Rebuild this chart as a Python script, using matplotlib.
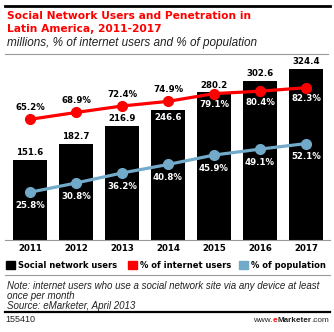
import matplotlib
matplotlib.use("Agg")
import matplotlib.pyplot as plt
from matplotlib.patches import Rectangle
from matplotlib.lines import Line2D

W, H = 334, 332

years = ["2011", "2012", "2013", "2014", "2015", "2016", "2017"]
users = [151.6, 182.7, 216.9, 246.6, 280.2, 302.6, 324.4]
pct_internet = [65.2, 68.9, 72.4, 74.9, 79.1, 80.4, 82.3]
pct_population = [25.8, 30.8, 36.2, 40.8, 45.9, 49.1, 52.1]

RED = "#ff0000"
BLUE = "#72aac9"
BOLD = "DejaVu Sans"
PLAIN = "Liberation Sans"


def fx(px):
    return px / W


def fy(py):
    return 1 - py / H


fig = plt.figure(figsize=(W / 100, H / 100), dpi=100)

# plot area: baseline at y=240px, top at 54px, x from 5 to 330px
ax = fig.add_axes([fx(5), fy(240), (330 - 5) / W, (240 - 54) / H])
ax2 = ax.twinx()

x = list(range(len(years)))
ax.bar(x, users, width=0.74, color="black", zorder=2)
ax.set_xlim(-0.543, 6.522)
ax.set_ylim(0, 353)
ax2.set_ylim(0, 100.5)

for i, v in enumerate(users):
    if i == 3:
        # the red line crosses above this bar, so its label sits inside
        ax.annotate(f"{v:.1f}", (i, v), xytext=(0, -5.3), textcoords="offset points",
                    ha="center", va="center", fontsize=6.2, fontweight="bold",
                    family=BOLD, color="white")
    else:
        ax.annotate(f"{v:.1f}", (i, v), xytext=(0, 2), textcoords="offset points",
                    ha="center", va="bottom", fontsize=6.2, fontweight="bold",
                    family=BOLD, color="black")

ax2.plot(x, pct_internet, color=RED, lw=2.3, marker="o", ms=7, zorder=3)
ax2.plot(x, pct_population, color=BLUE, lw=2.3, marker="o", ms=7, zorder=3)

for i, v in enumerate(pct_internet):
    if i < 4:
        dy, col = 8.5, "black"
    else:
        dy, col = -8, "white"
    ax2.annotate(f"{v:.1f}%", (i, v), xytext=(0, dy), textcoords="offset points",
                 ha="center", va="center", fontsize=6.2, fontweight="bold",
                 family=BOLD, color=col)

for i, v in enumerate(pct_population):
    ax2.annotate(f"{v:.1f}%", (i, v), xytext=(0, -9.5), textcoords="offset points",
                 ha="center", va="center", fontsize=6.2, fontweight="bold",
                 family=BOLD, color="white")

for a in (ax, ax2):
    for s in a.spines.values():
        s.set_visible(False)
    a.set_yticks([])
ax.spines["bottom"].set_visible(True)
ax.spines["bottom"].set_color("#999999")
ax.spines["bottom"].set_linewidth(0.8)
ax.set_xticks(x)
ax.set_xticklabels(years, fontsize=6.2, fontweight="bold", family=BOLD)
ax.tick_params(axis="x", length=0, pad=3)

# rules
fig.add_artist(Line2D([fx(5), fx(330)], [fy(6), fy(6)], color="black", lw=2))
fig.add_artist(Line2D([fx(5), fx(328)], [fy(54), fy(54)], color="#999999", lw=0.8))
fig.add_artist(Line2D([fx(5), fx(330)], [fy(275), fy(275)], color="#999999", lw=0.8))
fig.add_artist(Line2D([fx(5), fx(330)], [fy(312), fy(312)], color="black", lw=1.6))

# titles
fig.text(fx(7), fy(16), "Social Network Users and Penetration in", color=RED,
         fontsize=7.7, fontweight="bold", family=BOLD, va="center")
fig.text(fx(7), fy(29), "Latin America, 2011-2017", color=RED,
         fontsize=7.7, fontweight="bold", family=BOLD, va="center")
fig.text(fx(7), fy(43), "millions, % of internet users and % of population",
         color="#222222", fontsize=8.5, style="italic", family=PLAIN, va="center")

# legend
legend = [("black", "Social network users", 6), (RED, "% of internet users", 128),
          (BLUE, "% of population", 239)]
for col, label, px in legend:
    fig.add_artist(Rectangle((fx(px), fy(269)), 9 / W, 8 / H, color=col,
                             transform=fig.transFigure))
    fig.text(fx(px + 12), fy(265.5), label, fontsize=6, fontweight="bold",
             family=BOLD, va="center")

# notes
notes = ["Note: internet users who use a social network site via any device at least",
         "once per month", "Source: eMarketer, April 2013"]
for k, line in enumerate(notes):
    fig.text(fx(7), fy(286 + 10 * k), line, fontsize=7.0, style="italic",
             family=PLAIN, va="center", color="#222222")

fig.text(fx(5), fy(320), "155410", fontsize=6.5, family=PLAIN, va="center",
         color="#222222")

# footer brand, chained right to left
prev = fig.text(fx(329), fy(320), ".com", fontsize=5.9, family=PLAIN,
                va="center", ha="right", color="#222222")
for part, weight, col in [("Marketer", "bold", "#222222"), ("e", "bold", RED),
                          ("www.", "normal", "#222222")]:
    prev = ax.annotate(part, xy=(0, 0.5), xycoords=prev, ha="right", va="center",
                       fontsize=5.9, family=PLAIN, fontweight=weight, color=col,
                       annotation_clip=False)

fig.savefig("out.png", dpi=100)
